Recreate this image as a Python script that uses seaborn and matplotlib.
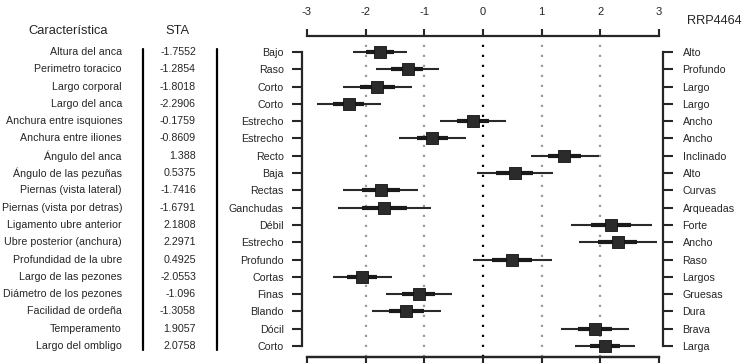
import matplotlib
matplotlib.use("Agg")
import matplotlib.pyplot as plt
import seaborn as sns
import pandas as pd
import numpy as np

caracteristica = ["Altura del anca", "Perimetro toracico", "Largo corporal", "Largo del anca",
                  "Anchura entre isquiones", "Anchura entre iliones", "Ángulo del anca",
                  "Ángulo de las pezuñas", "Piernas (vista lateral)", "Piernas (vista por detras)",
                  "Ligamento ubre anterior", "Ubre posterior (anchura)", "Profundidad de la ubre",
                  "Largo de las pezones", "Diámetro de los pezones", "Facilidad de ordeña",
                  "Temperamento", "Largo del ombligo"]
sta_labels = ["-1.7552", "-1.2854", "-1.8018", "-2.2906", "-0.1759", "-0.8609", "1.388",
              "0.5375", "-1.7416", "-1.6791", "2.1808", "2.2971", "0.4925", "-2.0553",
              "-1.096", "-1.3058", "1.9057", "2.0758"]
sta = [-1.7552, -1.2854, -1.8018, -2.2906, -0.1759, -0.8609, 1.388, 0.5375, -1.7416,
       -1.6791, 2.1808, 2.2971, 0.4925, -2.0553, -1.096, -1.3058, 1.9057, 2.0758]
low_label = ["Bajo", "Raso", "Corto", "Corto", "Estrecho", "Estrecho", "Recto", "Baja",
             "Rectas", "Ganchudas", "Débil", "Estrecho", "Profundo", "Cortas", "Finas",
             "Blando", "Dócil", "Corto"]
high_label = ["Alto", "Profundo", "Largo", "Largo", "Ancho", "Ancho", "Inclinado", "Alto",
              "Curvas", "Arqueadas", "Forte", "Ancho", "Raso", "Largos", "Gruesas", "Dura",
              "Brava", "Larga"]
ci_low = [-2.22, -1.83, -2.39, -2.83, -0.73, -1.43, 0.82, -0.10, -2.39, -2.47, 1.50, 1.64,
          -0.17, -2.56, -1.65, -1.89, 1.33, 1.57]
ci_high = [-1.30, -0.75, -1.21, -1.74, 0.39, -0.29, 1.98, 1.19, -1.10, -0.89, 2.88, 2.97,
           1.18, -1.55, -0.53, -0.71, 2.49, 2.59]
in_low = [-2.00, -1.56, -2.10, -2.56, -0.45, -1.13, 1.10, 0.22, -2.07, -2.07, 1.84, 1.96,
          0.16, -2.31, -1.38, -1.60, 1.62, 1.83]
in_high = [-1.52, -1.02, -1.50, -2.02, 0.10, -0.60, 1.67, 0.86, -1.42, -1.29, 2.52, 2.63,
           0.83, -1.80, -0.82, -1.01, 2.20, 2.34]
x_ticks = [-3, -2, -1, 0, 1, 2, 3]
sire = "RRP4464"

sns.set_style("white")
plt.rcParams['font.family'] = ['Liberation Sans', 'DejaVu Sans']

W, H = 744, 363
fig = plt.figure(figsize=(W / 100, H / 100), dpi=100)

ax_l, ax_r, ax_t, ax_b = 307, 659, 36, 357
ax = fig.add_axes([ax_l / W, 1 - ax_b / H, (ax_r - ax_l) / W, (ax_b - ax_t) / H])

n = len(sta)
row0, row_sp = 52, (346 - 52) / 17
df = pd.DataFrame({"pos": np.arange(n), "sta": sta, "lo": ci_low, "hi": ci_high,
                   "ilo": in_low, "ihi": in_high})

# gridlines
for v in x_ticks[1:-1]:
    ax.axvline(v, color="black" if v == 0 else "#9a9a9a", lw=1.6,
               ls=(0, (1, 3.5)), zorder=0)

ax.hlines(df["pos"], df["lo"], df["hi"], color="#2a2a2a", lw=1.5, zorder=2)
ax.hlines(df["pos"], df["ilo"], df["ihi"], color="#1a1a1a", lw=3.0, zorder=3)
sns.scatterplot(data=df, x="sta", y="pos", marker="s", s=66, color="#2b2b2b",
                edgecolor="#111111", linewidth=0.6, ax=ax, zorder=4, legend=False)

ax.set_xlim(-3, 3)
ax.set_ylim(17 + (ax_b - 346) / row_sp, -(row0 - ax_t) / row_sp)
ax.set_xlabel("")
ax.set_ylabel("")

LAB = 7.7

# x axes top and bottom
ax.xaxis.tick_top()
ax.set_xticks(x_ticks)
ax.set_xticklabels([str(t) for t in x_ticks], fontsize=8)
ax.tick_params(axis="x", direction="out", length=5, width=1.5, pad=9, top=True, bottom=False)
for s in ["top", "bottom"]:
    ax.spines[s].set_visible(True)
    ax.spines[s].set_linewidth(1.6)
    ax.spines[s].set_bounds(-3, 3)
secx = ax.secondary_xaxis("bottom")
secx.set_xticks(x_ticks)
secx.set_xticklabels([])
secx.tick_params(direction="out", length=6, width=1.5)
secx.spines["bottom"].set_linewidth(1.6)

# left bracket
ax.spines["left"].set_visible(True)
ax.spines["left"].set_position(("outward", 3.6))
ax.spines["left"].set_bounds(0, n - 1)
ax.spines["left"].set_linewidth(1.6)
ax.set_yticks(range(n))
ax.set_yticklabels(low_label, fontsize=LAB)
ax.tick_params(axis="y", direction="out", length=7, width=1.5, pad=6, left=True)
ax.spines["right"].set_visible(False)

# right bracket
ax2 = ax.twinx()
ax2.set_ylim(ax.get_ylim())
for s in ["top", "bottom", "left"]:
    ax2.spines[s].set_visible(False)
ax2.spines["right"].set_visible(True)
ax2.spines["right"].set_position(("outward", 3))
ax2.spines["right"].set_bounds(0, n - 1)
ax2.spines["right"].set_linewidth(1.6)
ax2.set_yticks(range(n))
ax2.set_yticklabels(high_label, fontsize=LAB)
ax2.tick_params(axis="y", direction="out", length=7, width=1.5, pad=7, right=True)
ax2.grid(False)
ax.grid(False)

def fx(x):
    return x / W

def fy(y):
    return 1 - y / H

for i in range(n):
    y = row0 + i * row_sp
    fig.text(fx(122), fy(y), caracteristica[i], ha="right", va="center", fontsize=LAB)
    fig.text(fx(196), fy(y), sta_labels[i], ha="right", va="center", fontsize=LAB)

fig.text(fx(68), fy(31), "Característica", ha="center", va="center", fontsize=9.3)
fig.text(fx(177), fy(31), "STA", ha="center", va="center", fontsize=9.3)
fig.text(fx(742), fy(21), sire, ha="right", va="center", fontsize=9.2)

for xv in [143, 217]:
    fig.add_artist(plt.Line2D([fx(xv), fx(xv)], [fy(49), fy(350)], color="black",
                              lw=1.6, transform=fig.transFigure))

fig.savefig("out.png", dpi=100)
